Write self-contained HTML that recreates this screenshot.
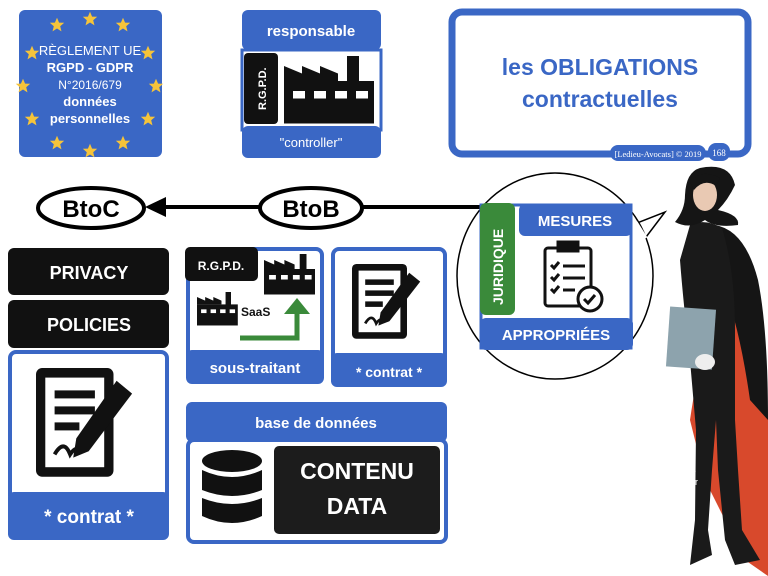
<!DOCTYPE html>
<html><head><meta charset="utf-8"><style>
html,body{margin:0;padding:0;background:#fff;width:768px;height:576px;overflow:hidden}
svg text{font-family:"Liberation Sans",sans-serif;font-weight:bold}
</style></head><body>
<svg width="768" height="576" viewBox="0 0 768 576" xmlns="http://www.w3.org/2000/svg">
<defs>
<symbol id="star" viewBox="-10 -10 20 20"><polygon points="0,-9 2.6,-3 9,-2.8 4,1.5 5.6,8 0,4.4 -5.6,8 -4,1.5 -9,-2.8 -2.6,-3" fill="#f6c43a"/></symbol>
<g id="contract">
<rect x="0" y="0" width="50" height="68" rx="4" fill="#111"/>
<rect x="6" y="6" width="38" height="56" fill="#fff"/>
<rect x="12" y="14" width="26" height="5" fill="#111"/><rect x="12" y="24" width="26" height="5" fill="#111"/><rect x="12" y="34" width="16" height="5" fill="#111"/>
<path d="M12 54 q6 -10 10 0 q4 -6 8 -2" stroke="#111" stroke-width="2.5" fill="none"/>
<polygon points="52,8 62,16 34,52 24,56 26,44" fill="#111"/>
</g>
<g id="factory">
<rect x="0" y="20" width="60" height="34" fill="#111"/>
<polygon points="0,20 0,8 12,14 12,8 24,14 24,8 36,14 36,20" fill="#111"/>
<rect x="42" y="0" width="8" height="22" fill="#111"/>
<rect x="6" y="28" width="8" height="6" fill="#fff"/><rect x="20" y="28" width="8" height="6" fill="#fff"/><rect x="34" y="28" width="8" height="6" fill="#fff"/><rect x="48" y="28" width="8" height="6" fill="#fff"/>
</g>
</defs>

<!-- EU box -->
<rect x="19" y="10" width="143" height="147" rx="6" fill="#3a67c5"/>
<g>
<use href="#star" x="49" y="17" width="16" height="16"/><use href="#star" x="82" y="11" width="16" height="16"/><use href="#star" x="115" y="17" width="16" height="16"/>
<use href="#star" x="24" y="45" width="16" height="16"/><use href="#star" x="140" y="45" width="16" height="16"/>
<use href="#star" x="15" y="78" width="16" height="16"/><use href="#star" x="148" y="78" width="16" height="16"/>
<use href="#star" x="24" y="111" width="16" height="16"/><use href="#star" x="140" y="111" width="16" height="16"/>
<use href="#star" x="49" y="135" width="16" height="16"/><use href="#star" x="82" y="143" width="16" height="16"/><use href="#star" x="115" y="135" width="16" height="16"/>
</g>
<text x="90" y="55" font-size="13" fill="#fff" text-anchor="middle" style="font-weight:normal">RÈGLEMENT UE</text>
<text x="90" y="72" font-size="13" fill="#fff" text-anchor="middle">RGPD - GDPR</text>
<text x="90" y="89" font-size="12" fill="#fff" text-anchor="middle" style="font-weight:normal">N°2016/679</text>
<text x="90" y="106" font-size="13" fill="#fff" text-anchor="middle">données</text>
<text x="90" y="123" font-size="13" fill="#fff" text-anchor="middle">personnelles</text>

<!-- responsable -->
<rect x="242" y="50" width="139" height="80" fill="#fff" stroke="#3a67c5" stroke-width="3"/>
<rect x="242" y="10" width="139" height="40" rx="6" fill="#3a67c5"/>
<text x="311" y="36" font-size="15" fill="#fff" text-anchor="middle">responsable</text>
<rect x="244" y="53" width="34" height="71" rx="4" fill="#111"/>
<text transform="translate(266,110) rotate(-90)" font-size="11" fill="#fff">R.G.P.D.</text>
<g transform="translate(284,56) scale(1.5,1.25)"><use href="#factory"/></g>
<rect x="242" y="126" width="139" height="32" rx="6" fill="#3a67c5"/>
<text x="311" y="147" font-size="13" fill="#fff" text-anchor="middle" style="font-weight:normal">"controller"</text>

<!-- title -->
<rect x="452" y="12" width="296" height="142" rx="10" fill="#fff" stroke="#3a67c5" stroke-width="7"/>
<text x="600" y="75" font-size="23" fill="#3a67c5" text-anchor="middle">les OBLIGATIONS</text>
<text x="600" y="107" font-size="23" fill="#3a67c5" text-anchor="middle">contractuelles</text>
<rect x="610" y="145" width="96" height="16" rx="8" fill="#3a67c5"/>
<text x="658" y="157" font-size="8.5" fill="#fff" text-anchor="middle" style="font-weight:normal;font-family:'Liberation Serif',serif">[Ledieu-Avocats] © 2019</text>
<rect x="708" y="143" width="22" height="18" rx="8" fill="#3a67c5"/>
<text x="719" y="156" font-size="9" fill="#fff" text-anchor="middle" style="font-weight:normal;font-family:'Liberation Serif',serif">168</text>

<!-- BtoC / BtoB -->
<line x1="160" y1="207" x2="482" y2="207" stroke="#000" stroke-width="4"/>
<polygon points="145,207 166,197 166,217" fill="#000"/>
<ellipse cx="91" cy="208" rx="53" ry="20" fill="#fff" stroke="#000" stroke-width="4"/>
<text x="91" y="217" font-size="24" text-anchor="middle">BtoC</text>
<ellipse cx="311" cy="208" rx="51" ry="20" fill="#fff" stroke="#000" stroke-width="4"/>
<text x="311" y="217" font-size="24" text-anchor="middle">BtoB</text>

<!-- circle -->
<path d="M632 225 L665 212 L640 245" fill="#fff" stroke="#000" stroke-width="1.5"/>
<ellipse cx="555" cy="276" rx="98" ry="103" fill="#fff" stroke="#000" stroke-width="1.5"/>
<path d="M636 222 L646 238" stroke="#fff" stroke-width="3"/>
<rect x="481" y="205" width="150" height="143" fill="#fff" stroke="#3a67c5" stroke-width="3"/>
<rect x="519" y="204" width="113" height="32" rx="6" fill="#3a67c5"/>
<text x="575" y="226" font-size="15" fill="#fff" text-anchor="middle">MESURES</text>
<rect x="480" y="203" width="35" height="112" rx="6" fill="#3a8a3a"/>
<text transform="translate(503,305) rotate(-90)" font-size="14" fill="#fff">JURIDIQUE</text>
<rect x="480" y="318" width="153" height="32" rx="6" fill="#3a67c5"/>
<text x="556" y="340" font-size="15" fill="#fff" text-anchor="middle">APPROPRIÉES</text>
<g stroke="#111" stroke-width="3" fill="none">
<rect x="545" y="248" width="46" height="58" rx="3"/>
<rect x="558" y="242" width="20" height="9" fill="#111"/>
<path d="M551 265 l3 3 l5 -6 M551 277 l3 3 l5 -6 M551 289 l3 3 l5 -6"/>
<path d="M563 266 h22 M563 278 h22 M563 290 h12"/>
</g>
<circle cx="590" cy="299" r="12" fill="#fff" stroke="#111" stroke-width="3"/>
<path d="M584 299 l4 4 l7 -8" stroke="#111" stroke-width="3" fill="none"/>

<!-- woman approximation -->
<path d="M735 250 Q760 330 768 420 L768 576 L745 560 Q725 520 705 480 L690 420 Q700 350 720 300 Z" fill="#d8492c"/>
<path d="M715 225 Q745 230 758 280 Q768 330 768 420 L750 400 Q740 330 725 290 Z" fill="#151515"/>
<path d="M690 225 Q705 218 722 228 Q735 270 735 330 L735 420 L738 470 L742 530 L760 560 L735 565 L725 540 L718 470 L716 420 L712 470 L708 530 L712 555 L690 565 L695 520 L696 430 L690 360 Q683 300 680 260 Z" fill="#1a1a1a"/>
<path d="M700 168 Q730 162 735 185 Q728 200 718 210 Q740 215 738 225 Q715 228 705 220 Q690 230 675 222 Q685 210 685 195 Q686 172 700 168 Z" fill="#151515"/>
<ellipse cx="705" cy="195" rx="12" ry="16" fill="#e9c9b3"/>
<path d="M690 182 Q702 168 720 178 L716 186 Q704 178 694 190 Z" fill="#151515"/>
<rect x="668" y="308" width="46" height="60" fill="#8da3ad" transform="rotate(4 690 338)"/>
<ellipse cx="705" cy="362" rx="10" ry="8" fill="#eee"/>
<text x="680" y="474" font-size="9" fill="#fff" text-anchor="middle" style="font-weight:normal">Philippe</text>
<text x="680" y="485" font-size="9" fill="#fff" text-anchor="middle" style="font-weight:normal">Gauckler</text>
<text x="680" y="496" font-size="9" fill="#fff" text-anchor="middle" style="font-weight:normal">© 2016</text>

<!-- left column -->
<rect x="8" y="248" width="161" height="47" rx="6" fill="#111"/>
<text x="89" y="279" font-size="18" fill="#fff" text-anchor="middle">PRIVACY</text>
<rect x="8" y="300" width="161" height="48" rx="6" fill="#111"/>
<text x="89" y="331" font-size="18" fill="#fff" text-anchor="middle">POLICIES</text>
<rect x="10" y="352" width="157" height="150" rx="6" fill="#fff" stroke="#3a67c5" stroke-width="4"/>
<g transform="translate(36,368) scale(1.55,1.6)"><use href="#contract"/></g>
<rect x="8" y="492" width="161" height="48" rx="6" fill="#3a67c5"/>
<text x="89" y="523" font-size="19" fill="#fff" text-anchor="middle">* contrat *</text>

<!-- sous-traitant -->
<rect x="188" y="249" width="134" height="120" rx="6" fill="#fff" stroke="#3a67c5" stroke-width="4"/>
<rect x="185" y="247" width="73" height="34" rx="5" fill="#111"/>
<text x="221" y="270" font-size="12" fill="#fff" text-anchor="middle">R.G.P.D.</text>
<g transform="translate(264,254) scale(0.85,0.75)"><use href="#factory"/></g>
<g transform="translate(197,292) scale(0.68,0.62)"><use href="#factory"/></g>
<text x="241" y="316" font-size="12" fill="#111">SaaS</text>
<path d="M240 338 H297 V312" stroke="#3a8a3a" stroke-width="5" fill="none"/>
<polygon points="284,314 297,298 310,314" fill="#3a8a3a"/>
<rect x="186" y="350" width="138" height="34" rx="6" fill="#3a67c5"/>
<text x="255" y="373" font-size="15" fill="#fff" text-anchor="middle">sous-traitant</text>

<!-- contrat -->
<rect x="333" y="249" width="112" height="125" rx="6" fill="#fff" stroke="#3a67c5" stroke-width="4"/>
<g transform="translate(352,264) scale(1.1,1.1)"><use href="#contract"/></g>
<rect x="331" y="353" width="116" height="34" rx="6" fill="#3a67c5"/>
<text x="389" y="377" font-size="14" fill="#fff" text-anchor="middle">* contrat *</text>

<!-- base de données -->
<rect x="188" y="440" width="258" height="102" rx="6" fill="#fff" stroke="#3a67c5" stroke-width="4"/>
<rect x="186" y="402" width="261" height="40" rx="6" fill="#3a67c5"/>
<text x="316" y="428" font-size="15" fill="#fff" text-anchor="middle">base de données</text>
<g fill="#111">
<ellipse cx="232" cy="461" rx="30" ry="11"/>
<path d="M202 470 Q232 484 262 470 V490 Q232 502 202 490 Z"/>
<path d="M202 498 Q232 510 262 498 V516 Q232 530 202 516 Z"/>
</g>
<rect x="274" y="446" width="166" height="88" rx="5" fill="#1c1c1c"/>
<text x="357" y="479" font-size="23" fill="#fff" text-anchor="middle">CONTENU</text>
<text x="357" y="514" font-size="23" fill="#fff" text-anchor="middle">DATA</text>
</svg>
</body></html>
